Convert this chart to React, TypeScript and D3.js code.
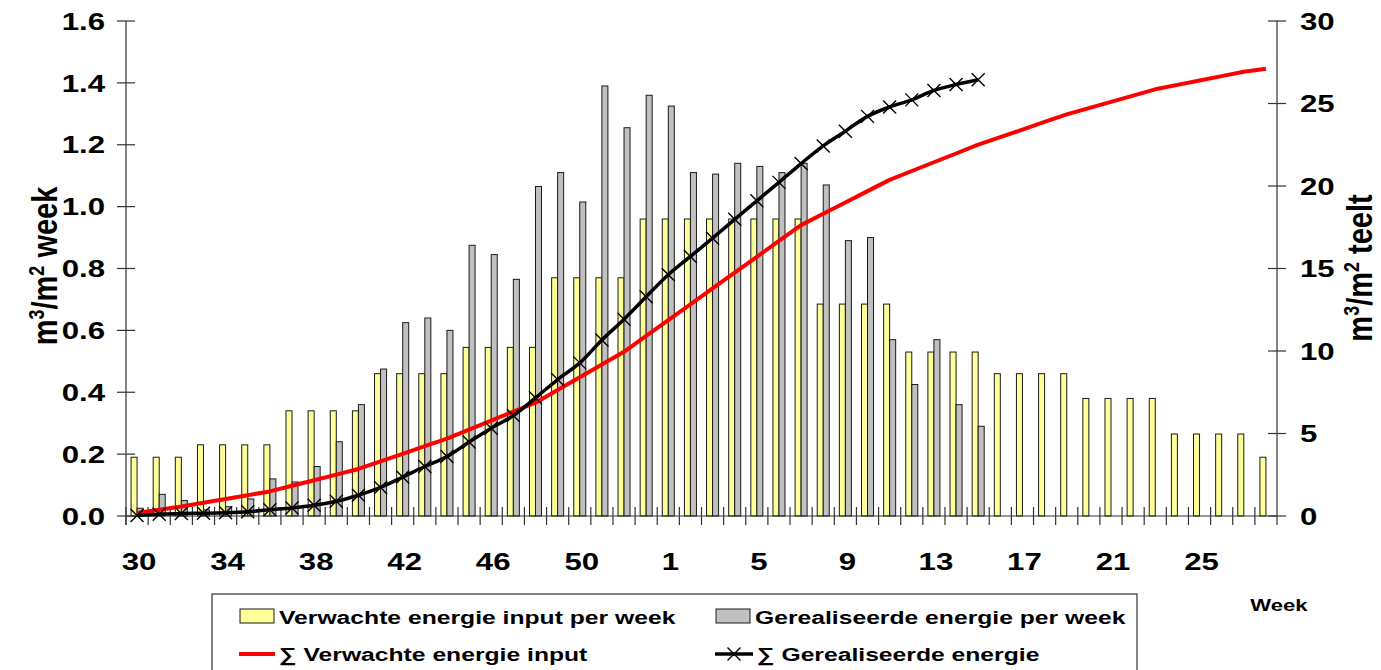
import React, { useEffect, useRef } from 'react';
import * as d3 from 'd3';

// week numbers on the x axis (53-week year)
const weeks = [
  30, 31, 32, 33, 34, 35, 36, 37, 38, 39, 40, 41, 42, 43, 44, 45, 46, 47, 48, 49, 50, 51, 52, 53,
  1, 2, 3, 4, 5, 6, 7, 8, 9, 10, 11, 12, 13, 14, 15, 16, 17, 18, 19, 20, 21, 22, 23, 24, 25, 26, 27, 28,
];
const labelWeeks = [30, 34, 38, 42, 46, 50, 1, 5, 9, 13, 17, 21, 25];

// m3/m2 per week (left axis)
const verwacht = [
  0.19, 0.19, 0.19, 0.23, 0.23, 0.23, 0.23, 0.34, 0.34, 0.34, 0.34, 0.46, 0.46, 0.46, 0.46,
  0.545, 0.545, 0.545, 0.545, 0.77, 0.77, 0.77, 0.77, 0.96, 0.96, 0.96, 0.96, 0.96, 0.96, 0.96, 0.96,
  0.685, 0.685, 0.685, 0.685, 0.53, 0.53, 0.53, 0.53, 0.46, 0.46, 0.46, 0.46, 0.38, 0.38, 0.38, 0.38,
  0.265, 0.265, 0.265, 0.265, 0.19,
];
const gerealiseerd = [
  0.025, 0.07, 0.05, 0.02, 0.03, 0.055, 0.12, 0.11, 0.16, 0.24, 0.36, 0.475, 0.625, 0.64, 0.6,
  0.875, 0.845, 0.765, 1.065, 1.11, 1.015, 1.39, 1.255, 1.36, 1.325, 1.11, 1.105, 1.14, 1.13, 1.11,
  1.14, 1.07, 0.89, 0.9, 0.57, 0.425, 0.57, 0.36, 0.29,
];

// m3/m2 teelt (right axis)
const somVerwacht = [
  0.19, 0.38, 0.57, 0.8, 1.03, 1.26, 1.49, 1.83, 2.17, 2.51, 2.85, 3.31, 3.77, 4.23, 4.69,
  5.24, 5.78, 6.33, 6.87, 7.64, 8.41, 9.18, 9.95, 10.91, 11.87, 12.83, 13.79, 14.75, 15.71, 16.67, 17.63,
  18.32, 19.0, 19.69, 20.37, 20.91, 21.44, 21.97, 22.51, 22.96, 23.42, 23.88, 24.34, 24.72, 25.1, 25.48, 25.86,
  26.13, 26.39, 26.66, 26.92, 27.11,
];
const somGerealiseerd = [
  0.03, 0.1, 0.15, 0.17, 0.2, 0.26, 0.38, 0.49, 0.65, 0.89, 1.26, 1.73, 2.36, 3.0, 3.6,
  4.48, 5.32, 6.09, 7.16, 8.27, 9.28, 10.67, 11.93, 13.29, 14.62, 15.73, 16.84, 17.98, 19.1, 20.22,
  21.36, 22.43, 23.32, 24.22, 24.79, 25.22, 25.79, 26.15, 26.44,
];

const leftTicks = [0, 0.2, 0.4, 0.6, 0.8, 1.0, 1.2, 1.4, 1.6];
const rightTicks = [0, 5, 10, 15, 20, 25, 30];

const FONT = 'Arial, "Liberation Sans", sans-serif';
const SX = 1.3; // the original chart is stretched horizontally
const CROSS = 'M-6.5,-6.5L6.5,6.5M-6.5,6.5L6.5,-6.5';

const EnergyChart: React.FC = () => {
  const chartRef = useRef<SVGSVGElement | null>(null);

  useEffect(() => {
    const svg = d3.select(chartRef.current);
    svg.selectAll('*').remove();

    const plot = { left: 126, right: 1277, top: 21, bottom: 516 };

    const x = d3
      .scaleBand<string>()
      .domain(weeks.map(String))
      .range([plot.left, plot.right]);
    const inner = d3
      .scaleBand<string>()
      .domain(['v', 'g'])
      .range([0, x.bandwidth()])
      .paddingInner(0)
      .paddingOuter(0.84);
    const yL = d3.scaleLinear().domain([0, 1.6]).range([plot.bottom, plot.top]);
    const yR = d3.scaleLinear().domain([0, 30]).range([plot.bottom, plot.top]);
    const cx = (i: number) => x(String(weeks[i]))! + x.bandwidth() / 2;

    // stretched bold text
    const text = (
      g: d3.Selection<any, unknown, null, undefined>,
      tx: number,
      ty: number,
      str: string,
      size: number,
      anchor: string,
      dy = '0'
    ) =>
      g
        .append('text')
        .attr('transform', `translate(${tx},${ty}) scale(${SX},1)`)
        .attr('text-anchor', anchor)
        .attr('dy', dy)
        .attr('font-family', FONT)
        .attr('font-weight', 'bold')
        .attr('font-size', size)
        .attr('fill', '#000')
        .text(str);

    // Bars
    const bars = svg.append('g');
    bars
      .selectAll('.verwacht')
      .data(verwacht)
      .enter()
      .append('rect')
      .attr('x', (_, i) => x(String(weeks[i]))! + inner('v')!)
      .attr('y', (d) => yL(d))
      .attr('width', inner.bandwidth())
      .attr('height', (d) => yL(0) - yL(d))
      .attr('fill', '#FFFF99')
      .attr('stroke', '#1a1a1a')
      .attr('stroke-width', 1);
    bars
      .selectAll('.gerealiseerd')
      .data(gerealiseerd)
      .enter()
      .append('rect')
      .attr('x', (_, i) => x(String(weeks[i]))! + inner('g')!)
      .attr('y', (d) => yL(d))
      .attr('width', inner.bandwidth())
      .attr('height', (d) => yL(0) - yL(d))
      .attr('fill', '#C0C0C0')
      .attr('stroke', '#1a1a1a')
      .attr('stroke-width', 1);

    // Axes
    const axes = svg.append('g').attr('stroke', '#333').attr('stroke-width', 1.2);
    axes.append('line').attr('x1', plot.left).attr('x2', plot.left).attr('y1', plot.top).attr('y2', plot.bottom + 9);
    axes.append('line').attr('x1', plot.right).attr('x2', plot.right).attr('y1', plot.top).attr('y2', plot.bottom + 9);
    axes.append('line').attr('x1', plot.left).attr('x2', plot.right).attr('y1', plot.bottom).attr('y2', plot.bottom);
    leftTicks.forEach((t) =>
      axes.append('line').attr('x1', plot.left - 9).attr('x2', plot.left + 9).attr('y1', yL(t)).attr('y2', yL(t))
    );
    rightTicks.forEach((t) =>
      axes.append('line').attr('x1', plot.right - 9).attr('x2', plot.right + 9).attr('y1', yR(t)).attr('y2', yR(t))
    );
    weeks.forEach((w) =>
      axes
        .append('line')
        .attr('x1', x(String(w))!)
        .attr('x2', x(String(w))!)
        .attr('y1', plot.bottom - 9)
        .attr('y2', plot.bottom + 9)
    );

    // Tick labels
    const labels = svg.append('g');
    leftTicks.forEach((t) => text(labels, 105, yL(t), t.toFixed(1), 24, 'end', '0.36em'));
    rightTicks.forEach((t) => text(labels, 1300, yR(t), String(t), 24, 'start', '0.36em'));
    labelWeeks.forEach((w) => text(labels, x(String(w))! + x.bandwidth() / 2 + 2, 570, String(w), 24, 'middle'));

    // Axis titles (rotated, with superscripts)
    const title = (tx: number, ty: number, last: string) => {
      const t = svg
        .append('text')
        .attr('transform', `translate(${tx},${ty}) rotate(-90) scale(1,1.2)`)
        .attr('text-anchor', 'middle')
        .attr('font-family', FONT)
        .attr('font-weight', 'bold')
        .attr('font-size', 29)
        .attr('fill', '#000');
      t.append('tspan').text('m');
      t.append('tspan').attr('dy', -11).attr('font-size', 18).text('3');
      t.append('tspan').attr('dy', 11).text('/m');
      t.append('tspan').attr('dy', -11).attr('font-size', 18).text('2');
      t.append('tspan').attr('dy', 11).text(last);
    };
    title(57, 266, ' week');
    title(1372, 268, ' teelt');

    // Lines
    const redLine = d3
      .line<number>()
      .x((_, i) => cx(i))
      .y((d) => yR(d));
    svg
      .append('path')
      .datum(somVerwacht)
      .attr('d', redLine)
      .attr('fill', 'none')
      .attr('stroke', '#FF0000')
      .attr('stroke-width', 4)
      .attr('stroke-linejoin', 'round');

    const blackLine = d3
      .line<number>()
      .x((_, i) => cx(i))
      .y((d) => yR(d))
      .curve(d3.curveCatmullRom.alpha(0.5));
    svg
      .append('path')
      .datum(somGerealiseerd)
      .attr('d', blackLine)
      .attr('fill', 'none')
      .attr('stroke', '#000')
      .attr('stroke-width', 3.5)
      .attr('stroke-linejoin', 'round');

    svg
      .append('g')
      .selectAll('path')
      .data(somGerealiseerd)
      .enter()
      .append('path')
      .attr('transform', (d, i) => `translate(${cx(i)},${yR(d)})`)
      .attr('d', CROSS)
      .attr('stroke', '#000')
      .attr('stroke-width', 1.4)
      .attr('fill', 'none');

    // Legend
    const legend = svg.append('g');
    legend
      .append('rect')
      .attr('x', 212)
      .attr('y', 594)
      .attr('width', 925)
      .attr('height', 120)
      .attr('fill', '#fff')
      .attr('stroke', '#333')
      .attr('stroke-width', 1.2);
    legend.append('rect').attr('x', 240).attr('y', 609).attr('width', 34).attr('height', 14)
      .attr('fill', '#FFFF99').attr('stroke', '#1a1a1a');
    text(legend, 279, 624, 'Verwachte energie input per week', 19, 'start');
    legend.append('rect').attr('x', 716).attr('y', 609).attr('width', 34).attr('height', 14)
      .attr('fill', '#C0C0C0').attr('stroke', '#1a1a1a');
    text(legend, 755, 624, 'Gerealiseerde energie per week', 19, 'start');

    legend.append('line').attr('x1', 239).attr('x2', 275).attr('y1', 654).attr('y2', 654)
      .attr('stroke', '#FF0000').attr('stroke-width', 4);
    text(legend, 279, 661, '\u2211 Verwachte energie input', 19, 'start');
    legend.append('line').attr('x1', 715).attr('x2', 753).attr('y1', 654).attr('y2', 654)
      .attr('stroke', '#000').attr('stroke-width', 3.5);
    legend.append('path').attr('transform', 'translate(734,654)')
      .attr('d', CROSS).attr('stroke', '#000').attr('stroke-width', 1.4);
    text(legend, 757, 661, '\u2211 Gerealiseerde energie', 19, 'start');

    text(svg, 1279, 611, 'Week', 17, 'middle');
  }, []);

  return (
    <svg
      ref={chartRef}
      width={1381}
      height={670}
      style={{ position: 'absolute', left: 0, top: 0, background: '#fff' }}
    ></svg>
  );
};

export default function App() {
  return <EnggyChartWrapper />;
}

function EnggyChartWrapper() {
  return <EnergyChart />;
}
